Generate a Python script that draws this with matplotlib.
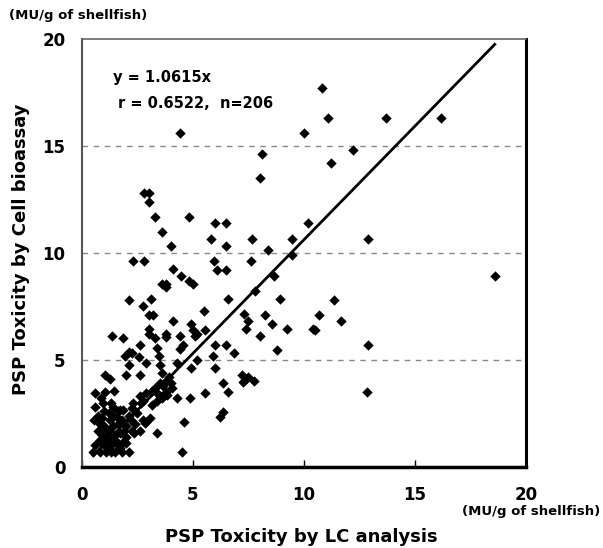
import matplotlib.pyplot as plt
import numpy as np

# LC analysis (x) vs cell bioassay (y), MU/g of shellfish
lc = [4.4, 10.0, 10.8, 11.1, 13.7, 16.2, 12.2, 11.2, 8.1, 8.0,
      2.8, 3.0, 3.0, 3.3, 4.8, 3.6, 6.0, 6.5, 10.2, 12.9,
      4.0, 2.3, 2.8, 4.1, 4.45, 4.8, 5.0, 3.6, 3.8, 3.8,
      2.1, 3.1, 2.75, 3.0, 3.2, 4.1, 4.9, 3.0, 3.0, 1.35,
      1.85, 3.8, 3.8, 3.3, 4.4, 5.0, 5.1, 2.6, 3.4, 4.55,
      4.4, 2.25, 5.8, 6.5, 7.65, 9.45, 8.4, 9.45, 5.95, 7.6,
      6.1, 6.5, 8.65, 7.8, 6.6, 8.9, 5.5, 7.3, 7.5, 8.25,
      8.55, 7.4, 9.25, 10.4, 5.55, 8.0, 5.2, 6.0, 6.5, 8.8,
      6.85, 18.6, 11.35, 10.7, 10.5, 11.65, 12.9, 12.85, 5.2, 5.9,
      6.0, 6.35, 5.55, 6.6, 7.2, 7.35, 7.5, 7.75, 7.25, 6.35,
      6.2, 2.1, 2.55, 3.45, 2.1, 2.9, 3.5, 4.3, 1.05, 1.25,
      2.0, 2.6, 3.6, 3.9, 3.8, 0.6, 1.05, 1.45, 0.85, 0.6,
      0.95, 1.85, 2.3, 2.6, 2.9, 3.15, 3.3, 3.5, 2.75, 3.6,
      3.4, 4.05, 4.0, 4.3, 4.85, 3.8, 3.85, 3.5, 3.4, 2.9,
      2.75, 2.25, 2.6, 3.4, 4.6, 4.5, 0.5, 0.8, 1.1, 1.3,
      1.5, 1.8, 2.1, 1.85, 1.4, 0.8, 1.05, 1.25, 4.9, 1.95,
      2.65, 2.25, 1.7, 3.15, 3.65, 2.85, 3.05, 2.35, 0.7, 0.9,
      1.0, 1.2, 1.4, 1.6, 0.8, 1.0, 1.2, 1.4, 1.6, 1.8,
      0.9, 1.1, 1.3, 1.5, 1.7, 2.0, 2.1, 1.0, 1.2, 1.6,
      0.6, 1.4, 1.9, 2.0, 0.7, 1.1, 1.5, 2.2, 1.7, 2.5,
      2.0, 1.3, 2.4, 0.55, 1.6, 1.9]
cell = [15.6, 15.6, 17.7, 16.3, 16.3, 16.3, 14.8, 14.2, 14.6, 13.5,
        12.8, 12.8, 12.4, 11.7, 11.7, 11.0, 11.4, 11.4, 11.4, 10.65,
        10.3, 9.6, 9.6, 9.25, 8.9, 8.7, 8.55, 8.55, 8.55, 8.4,
        7.8, 7.85, 7.5, 7.1, 7.1, 6.8, 6.7, 6.45, 6.2, 6.1,
        6.0, 6.2, 6.05, 6.0, 6.1, 6.4, 6.1, 5.7, 5.55, 5.7,
        5.5, 5.3, 10.65, 10.3, 10.65, 10.65, 10.15, 9.9, 9.6, 9.6,
        9.2, 9.2, 8.9, 8.2, 7.85, 7.85, 7.3, 7.15, 6.8, 7.1,
        6.7, 6.45, 6.45, 6.45, 6.4, 6.1, 6.2, 5.7, 5.7, 5.45,
        5.3, 8.9, 7.8, 7.1, 6.4, 6.8, 5.7, 3.5, 5.0, 5.2,
        4.6, 3.9, 3.45, 3.5, 4.3, 4.05, 4.2, 4.0, 3.95, 2.55,
        2.35, 5.35, 5.15, 5.2, 4.75, 4.85, 4.75, 4.85, 4.3, 4.1,
        4.3, 4.3, 4.4, 4.2, 4.0, 3.45, 3.5, 3.55, 3.2, 2.8,
        3.0, 2.65, 3.0, 3.3, 3.45, 3.55, 3.7, 3.9, 3.1, 3.2,
        3.45, 3.7, 3.9, 3.2, 3.2, 3.5, 3.35, 3.3, 3.1, 2.1,
        2.2, 1.7, 1.7, 1.6, 2.1, 0.7, 0.7, 0.7, 0.7, 0.7,
        0.7, 0.7, 0.7, 1.15, 1.1, 1.25, 1.8, 2.2, 4.6, 5.2,
        3.0, 2.75, 2.65, 2.9, 3.8, 2.05, 2.3, 1.6, 2.4, 2.3,
        2.6, 2.5, 2.4, 2.3, 2.0, 1.9, 1.7, 1.9, 2.0, 2.2,
        1.5, 1.4, 1.3, 1.5, 1.6, 1.9, 2.4, 1.0, 0.9, 1.0,
        1.0, 2.8, 2.0, 1.4, 1.7, 1.15, 1.25, 2.2, 0.9, 2.5,
        1.1, 3.0, 2.0, 2.2, 2.6, 1.7]

slope = 1.0615
fit_x = [0.5, 18.6]

fig = plt.figure(figsize=(6.03, 5.48), dpi=100)
ax = fig.add_axes([0.136, 0.148, 0.736, 0.781])

for yv in [5, 10, 15]:
    ax.axhline(yv, color='#888888', lw=1, ls=(0, (4, 4)), zorder=1)

ax.scatter(lc, cell, marker='D', s=28, color='black', lw=0, zorder=3)
ax.plot(fit_x, [slope * v for v in fit_x], color='black', lw=2, zorder=4)

ax.set_xlim(0, 20)
ax.set_ylim(0, 20)
ax.set_xticks([0, 5, 10, 15, 20])
ax.set_yticks([0, 5, 10, 15, 20])
ax.tick_params(axis='x', direction='in', length=5, width=1, pad=14, labelsize=12)
ax.tick_params(axis='y', length=0, pad=12, labelsize=12)
for lab in ax.get_xticklabels() + ax.get_yticklabels():
    lab.set_fontweight('bold')

ax.spines['top'].set_color('#666666')
ax.spines['left'].set_color('#555555')
ax.spines['top'].set_linewidth(1.2)
ax.spines['left'].set_linewidth(1.5)
ax.spines['right'].set_linewidth(2.2)
ax.spines['bottom'].set_linewidth(2.5)

ax.text(0.07, 0.91, 'y = 1.0615x', transform=ax.transAxes, fontsize=10.5,
        fontweight='bold', va='center')
ax.text(0.08, 0.85, 'r = 0.6522,  n=206', transform=ax.transAxes, fontsize=10.5,
        fontweight='bold', va='center')

fig.text(0.015, 0.972, '(MU/g of shellfish)', fontsize=9.5, fontweight='bold', va='center')
fig.text(0.995, 0.066, '(MU/g of shellfish)', fontsize=9.5, fontweight='bold',
         va='center', ha='right')
fig.text(0.5, 0.02, 'PSP Toxicity by LC analysis', fontsize=13, fontweight='bold',
         ha='center', va='center')
fig.text(0.035, 0.545, 'PSP Toxicity by Cell bioassay', fontsize=13, fontweight='bold',
         ha='center', va='center', rotation=90)

fig.savefig('out.png', dpi=100)
